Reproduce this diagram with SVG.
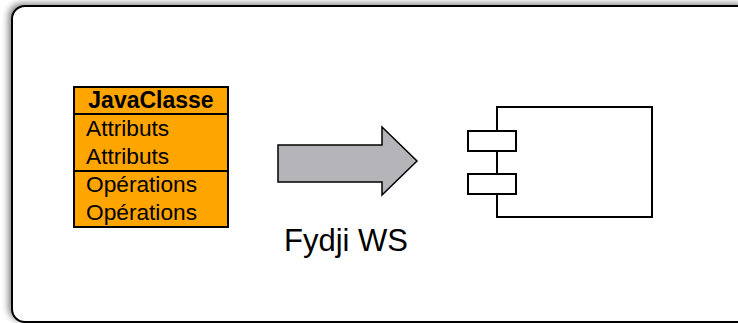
<svg xmlns="http://www.w3.org/2000/svg" width="738" height="323" viewBox="0 0 738 323">
<style>
.t{font-family:"Liberation Sans",Arial,sans-serif;fill:#000}
.ln{stroke:#000;stroke-width:2;fill:none}
</style>
<defs>
<filter id="sh" x="-5%" y="-5%" width="110%" height="110%">
<feGaussianBlur in="SourceAlpha" stdDeviation="3"/>
<feOffset dx="-3" dy="-2" result="b"/>
<feComponentTransfer><feFuncA type="linear" slope="0.45"/></feComponentTransfer>
<feMerge><feMergeNode/><feMergeNode in="SourceGraphic"/></feMerge>
</filter>
</defs>
<rect width="738" height="323" fill="#fff"/>
<g id="frame">
<rect x="12" y="6" width="740" height="316" rx="13" fill="#fff" stroke="#000" stroke-width="2" filter="url(#sh)"/>
</g>
<g id="javaclasse">
<rect x="74" y="87" width="154" height="140" fill="#FFA500" stroke="#000" stroke-width="2"/>
<line x1="74" y1="114" x2="228" y2="114" stroke="#000" stroke-width="2"/>
<line x1="74" y1="171" x2="228" y2="171" stroke="#000" stroke-width="2"/>
<text class="t" x="151" y="108" font-size="23" font-weight="bold" text-anchor="middle">JavaClasse</text>
<text class="t" x="86" y="136" font-size="22.7">Attributs</text>
<text class="t" x="86" y="164" font-size="22.7">Attributs</text>
<text class="t" x="86" y="192" font-size="22.7">Opérations</text>
<text class="t" x="86" y="220" font-size="22.7">Opérations</text>
</g>
<g id="connectors">
<path d="M278,145 L382,145 L382,127 L417,161 L382,195 L382,182 L278,182 Z" fill="#b4b4b9" stroke="#000" stroke-width="1.5" stroke-linejoin="miter"/>
<text class="t" x="284" y="251" font-size="31">Fydji WS</text>
</g>
<g id="component">
<rect x="497" y="107" width="155" height="110" class="ln"/>
<rect x="468" y="131" width="48" height="20" fill="#fff" stroke="#000" stroke-width="2"/>
<rect x="468" y="174" width="48" height="20" fill="#fff" stroke="#000" stroke-width="2"/>
</g>
</svg>
